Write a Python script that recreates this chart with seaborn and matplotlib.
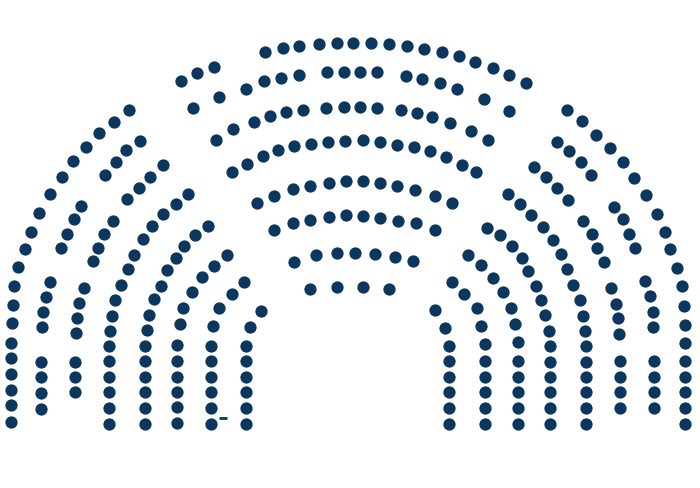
import pandas as pd
import seaborn as sns
import matplotlib
matplotlib.use("Agg")
import matplotlib.pyplot as plt

# seat positions (pixel space, y down)
# central arcs, from the back row (a) to the front row (h)
arc_a_x = [181, 196.7, 213.7, 265.3, 282.7, 299.3, 318.7, 337.3, 353.3, 370.7, 389.3, 406.7, 424, 441.7, 458.7, 475.3, 492.7, 509.3, 526]
arc_a_y = [82.3, 74.3, 67.7, 52.7, 49.3, 46.7, 45, 44, 44, 44, 45, 47.3, 50, 53.3, 57.3, 63.3, 69, 75.7, 84.3]
arc_b_x = [193.3, 218.7, 245.7, 264, 280.7, 298.7, 327, 343.7, 359.7, 377, 405.7, 421.7, 439.7, 457.3, 484.3, 508.7]
arc_b_y = [109.3, 98.3, 90, 82.3, 79.3, 76, 73.3, 73.3, 72.7, 73.3, 77.3, 80, 84.3, 90, 100, 111.7]
arc_c_x = [215.5, 232.5, 254.3, 270.3, 285.7, 303, 326.3, 343.7, 359.7, 377, 401, 417.3, 432.3, 449.7, 471, 488]
arc_c_y = [141, 130, 122.7, 116.7, 113.3, 110.7, 108.7, 107.7, 107.7, 109, 110.7, 114.3, 118.3, 124, 131.7, 141]
arc_d_x = [232.3, 247, 262.7, 278, 294.3, 310.7, 328, 345.3, 363, 380.3, 397, 413.7, 430.3, 445.7, 462, 475.7]
arc_d_y = [172.7, 165, 157.3, 151, 146.7, 145, 143.3, 141.7, 141, 143.3, 145.7, 148.3, 151.7, 157.7, 166, 173.3]
arc_e_x = [257, 273.7, 293, 310.3, 328.7, 346.3, 363, 380.3, 397.3, 415.3, 435.3, 452]
arc_e_y = [204, 196.7, 190, 186.7, 184, 182.3, 182.3, 184.3, 187.3, 191, 196.7, 204]
arc_f_x = [274, 293, 309.7, 328.7, 346, 363, 380.3, 398, 416.3, 434.5]
arc_f_y = [231, 224, 221, 217.7, 216, 216.7, 218.7, 222, 224.3, 231]
arc_g_x = [294, 316, 336.7, 354.7, 374.7, 394.7, 413.3]
arc_g_y = [262.7, 255.7, 254.3, 254.3, 255, 258.3, 262.3]
arc_h_x = [310, 336.7, 363, 389.3]
arc_h_y = [290.3, 288, 288, 290.3]

# left wing, outer (1) to inner (8)
left_1_x = [128.7, 113.7, 99, 86, 73.3, 62, 50, 38.5, 31, 25, 18.3, 14.3, 12.7, 11.7] + [11] * 6
left_1_y = [111, 122.5, 134.3, 148.3, 161.7, 178.3, 195, 214, 232.5, 250, 268, 287.3, 306, 324.3,
            344.3, 359.3, 375.3, 391, 406.3, 422.7]
left_2_x = [139.7, 126, 115.7, 105, 81, 74, 66.7, 60.7, 50, 45.7, 42.7, 41.7] + [40.7] * 4
left_2_y = [141.7, 151, 163.3, 175.7, 207.3, 220.3, 234.5, 249.3, 282.7, 298.3, 313, 328.3,
            362.7, 378.3, 394, 410]
left_3_x = [162.7, 150, 139, 127.3, 112.7, 104.3, 97.5, 92.7, 84.3, 79.3, 77.3, 76] + [75.3] * 3
left_3_y = [166, 178, 188.7, 200.3, 221.5, 234.8, 248.7, 262, 288.7, 304, 319.3, 334.3,
            362.7, 378, 393.3]
left_4_x = [187.7, 175.7, 163.3, 152.3, 142.7, 134.3, 128, 120.7, 115, 112, 110] + [109.3] * 6
left_4_y = [195, 204.8, 215.3, 227, 240, 255.7, 269.5, 286, 301, 317, 332,
            346.7, 362.3, 377.7, 393.3, 409.3, 425]
left_5_x = [208.3, 195, 184, 175.7, 167.3, 160.7, 154, 149, 146.7] + [145.3] * 6
left_5_y = [227, 236, 246.7, 259, 271, 286.7, 300, 315.7, 330.7,
            346.7, 362.3, 377.7, 393.3, 409.3, 425]
left_6_x = [227.3, 214.3, 201.7, 191.7, 183.3, 180] + [176.7] * 6
left_6_y = [255.7, 266.5, 277.5, 293.3, 309, 325, 345.7, 361.7, 377.7, 393.3, 408.3, 424.3]
left_7_x = [243.7, 231.7, 219.3, 213.3] + [211] * 6
left_7_y = [282.5, 295, 309, 326.7, 346.7, 362.3, 377.7, 393.3, 409.3, 425]
left_8_x = [261.3, 249.7] + [246.3] * 6
left_8_y = [311.7, 328, 346.7, 362, 377.7, 393.3, 409, 425]

# right wing, outer (1) to inner (8)
right_1_x = [567, 581.7, 595.7, 610.2, 622.5, 633.5, 645.8, 656.7, 664.5, 670.2, 677.3, 682, 683.7, 685] + [685] * 6
right_1_y = [111, 122.2, 135.5, 148.8, 163.2, 178.5, 196, 214.5, 232.7, 250, 268.5, 286.7, 306.7, 325.7,
             344, 361.7, 377.7, 393.3, 409.3, 425.3]
right_2_x = [557, 568.5, 580.7, 591.2, 614.2, 622.5, 628.5, 634.7, 645, 650.3, 652.7, 653.3] + [654.3] * 4
right_2_y = [142.5, 151.7, 163.3, 176, 208.2, 220, 234.5, 248.7, 282.3, 297.3, 312.7, 328.3,
             361.7, 377.7, 393.3, 409.3]
right_3_x = [533.7, 546, 557, 567.7, 582.5, 591.5, 596.8, 603.8, 611, 616, 618, 619.3] + [620.3] * 4
right_3_y = [167.7, 178.3, 189.3, 201, 221.7, 234.5, 248.7, 262.7, 289.3, 304.7, 319.3, 335,
             361.7, 377.7, 393.3, 409.3]
right_4_x = [508, 519.5, 531.3, 542.8, 552.5, 561, 567, 573.3, 580.3, 583.3, 585.3] + [586] * 6
right_4_y = [195.2, 204.8, 216, 228, 240.8, 255.3, 270, 286, 301.3, 317, 331.7,
             347.3, 362.7, 377.7, 393.3, 409.3, 425.3]
right_5_x = [486.7, 499.5, 512, 521.5, 527.7, 535.7, 541, 545.3, 549.3] + [550.3] * 6
right_5_y = [228.5, 236, 247.3, 259.3, 272.3, 286.7, 300.7, 316.3, 331.7,
             346.7, 362.7, 377.7, 393.3, 409.3, 425.3]
right_6_x = [468, 481, 493.3, 503.3, 511.3, 515.3] + [517.7] * 6
right_6_y = [256.3, 266.3, 278.5, 292.7, 309, 325.3, 343.3, 361.7, 377.7, 393.3, 409.3, 425.3]
right_7_x = [451.5, 463.5, 476.5, 481] + [485] * 6
right_7_y = [282.5, 295, 309, 327, 345, 361.7, 377.7, 393.3, 409.3, 425.3]
right_8_x = [435.2, 445.3] + [449] * 6
right_8_y = [311, 328.7, 346.7, 362, 377.7, 393.3, 409, 425]

# the little stray dash near the left front
dash_x = [223.3]
dash_y = [419.3]

seat_color = "#0b375e"

rows = {
    "a": (arc_a_x, arc_a_y), "b": (arc_b_x, arc_b_y), "c": (arc_c_x, arc_c_y),
    "d": (arc_d_x, arc_d_y), "e": (arc_e_x, arc_e_y), "f": (arc_f_x, arc_f_y),
    "g": (arc_g_x, arc_g_y), "h": (arc_h_x, arc_h_y),
    "l1": (left_1_x, left_1_y), "l2": (left_2_x, left_2_y), "l3": (left_3_x, left_3_y),
    "l4": (left_4_x, left_4_y), "l5": (left_5_x, left_5_y), "l6": (left_6_x, left_6_y),
    "l7": (left_7_x, left_7_y), "l8": (left_8_x, left_8_y),
    "r1": (right_1_x, right_1_y), "r2": (right_2_x, right_2_y), "r3": (right_3_x, right_3_y),
    "r4": (right_4_x, right_4_y), "r5": (right_5_x, right_5_y), "r6": (right_6_x, right_6_y),
    "r7": (right_7_x, right_7_y), "r8": (right_8_x, right_8_y),
}
df = pd.concat([pd.DataFrame({"x": xs, "y": ys, "row": k}) for k, (xs, ys) in rows.items()],
               ignore_index=True)
# print(len(df))

sns.set_style("white")
fig = plt.figure(figsize=(7, 4.89), dpi=100)
ax = fig.add_axes([0, 0, 1, 1])
sns.scatterplot(data=df, x="x", y="y", color=seat_color, s=78, linewidth=0, ax=ax, legend=False)
sns.scatterplot(x=dash_x, y=dash_y, marker="_", color=seat_color, s=30, linewidth=2, ax=ax, legend=False)

ax.set_xlim(0, 700)
ax.set_ylim(489, 0)
ax.set_axis_off()

fig.savefig("out.png", dpi=100, facecolor="white")
